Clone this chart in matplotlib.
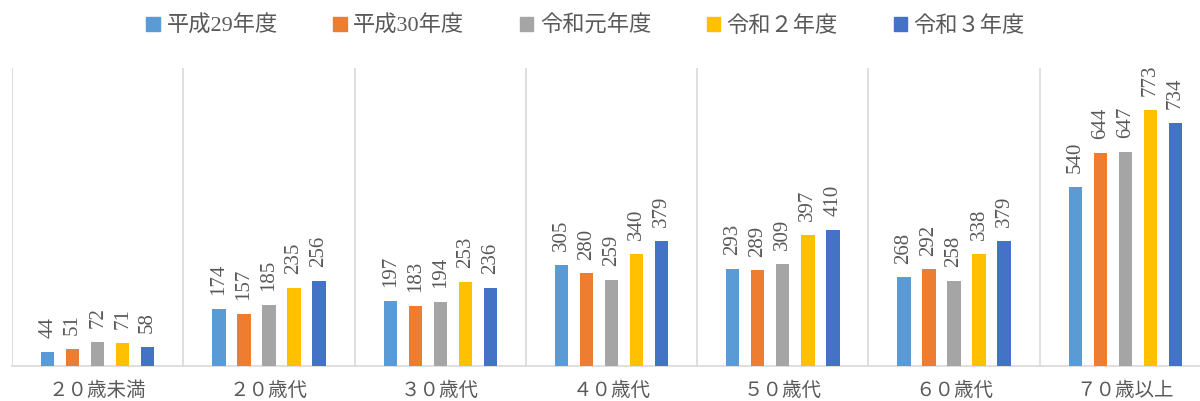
import numpy as np
import matplotlib.pyplot as plt
from matplotlib.patches import Patch

plt.rcParams['font.family'] = ['Liberation Serif', 'Noto Sans CJK JP']

categories = ['２０歳未満', '２０歳代', '３０歳代', '４０歳代', '５０歳代', '６０歳代', '７０歳以上']
series_names = ['平成29年度', '平成30年度', '令和元年度', '令和２年度', '令和３年度']
h29 = [44, 174, 197, 305, 293, 268, 540]
h30 = [51, 157, 183, 280, 289, 292, 644]
r1 = [72, 185, 194, 259, 309, 258, 647]
r2 = [71, 235, 253, 340, 397, 338, 773]
r3 = [58, 256, 236, 379, 410, 379, 734]
values = [h29, h30, r1, r2, r3]
colors = ['#5b9bd5', '#ed7d31', '#a5a5a5', '#ffc000', '#4472c4']

fig = plt.figure(figsize=(12, 4.01), dpi=100)
# plot area runs slightly past the right edge, as in the original
ax = fig.add_axes([0.01, 0.087, 0.9992, 0.743])

x = np.arange(len(categories))
step = 0.146
width = 0.078
for i, (vals, c) in enumerate(zip(values, colors)):
    pos = x + (i - 2) * step
    ax.bar(pos, vals, width=width, color=c, zorder=3)
    for p, v in zip(pos, vals):
        ax.annotate(str(v), (p, v), xytext=(0, 10), textcoords='offset points',
                    rotation=90, ha='center', va='bottom', fontsize=15,
                    color='#595959')

# group separators
for b in np.arange(len(categories) + 1) - 0.5:
    ax.axvline(b, color='#d9d9d9', lw=1.2, zorder=1)

ax.set_xlim(-0.5, len(categories) - 0.5)
ax.set_ylim(0, 900)
ax.set_yticks([])
ax.set_xticks(x)
ax.set_xticklabels(categories, fontsize=14, color='#595959')
ax.tick_params(axis='x', length=0, pad=11)
for s in ['top', 'right', 'left']:
    ax.spines[s].set_visible(False)
ax.spines['bottom'].set_color('#d9d9d9')
ax.spines['bottom'].set_linewidth(1.2)

handles = [Patch(color=c, label=n) for c, n in zip(colors, series_names)]
fig.legend(handles=handles, loc='upper center', bbox_to_anchor=(0.488, 1.01),
           ncol=5, frameon=False, fontsize=16, handlelength=0.6, handleheight=0.6,
           handletextpad=0.3, columnspacing=2.5, labelcolor='#595959')

fig.savefig('out.png', dpi=100)
